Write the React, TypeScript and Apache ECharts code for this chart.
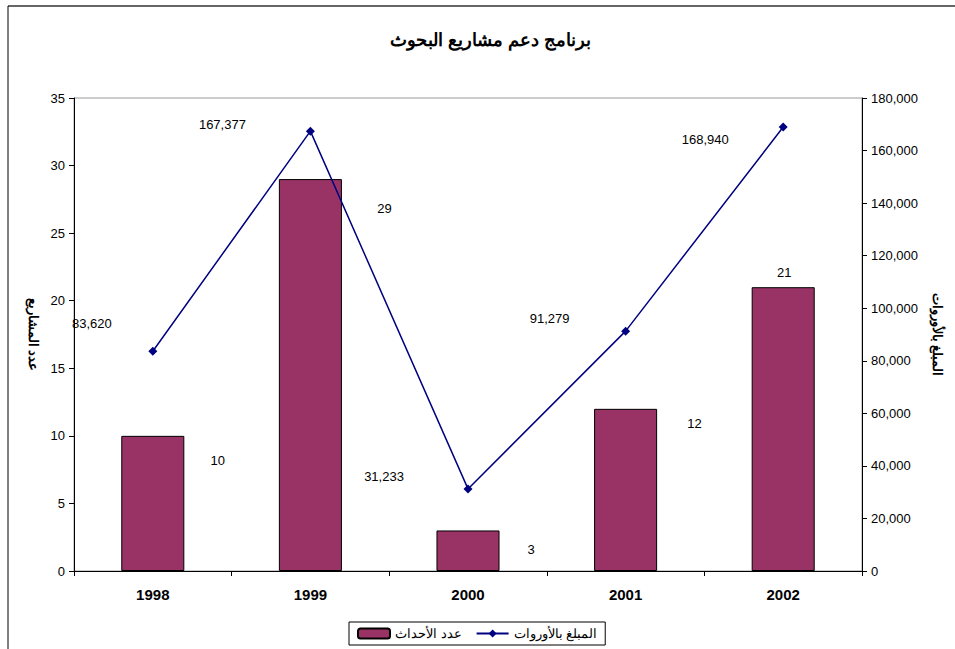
import React, { useEffect, useRef } from "react";
import * as echarts from "echarts";

const categories = ["1998", "1999", "2000", "2001", "2002"];
const projectCounts = [10, 29, 3, 12, 21];
const amountsEuro = [83620, 167377, 31233, 91279, 168940];
const leftTicks = { min: 0, max: 35, interval: 5 };
const rightTicks = { min: 0, max: 180000, interval: 20000 };

const barName = "عدد الأحداث";
const lineName = "المبلغ بالأوروات";
const titleText = "برنامج دعم مشاريع البحوث";
const leftAxisName = "عدد المشاريع";
const rightAxisName = "المبلغ بالأوروات";

// label offsets (manual label placement as in the reference)
const barLabelOffsets = [[65, 31], [74, 36], [63, 26], [69, 21], [1, -8]];
const lineLabelOffsets = [[-61, -17], [-88, 4], [-84, -1], [-76, -2], [-78, 23]];

const FONT = "Arial, 'Liberation Sans', sans-serif";

export default function App() {
  const ref = useRef<HTMLDivElement>(null);
  useEffect(() => {
    document.body.style.margin = "0";
    const chart = echarts.init(ref.current!, null, { renderer: "svg" });
    chart.setOption({
      animation: false,
      backgroundColor: "#fff",
      textStyle: { fontFamily: FONT },
      title: {
        text: titleText,
        left: 385,
        top: 26,
        textStyle: { fontFamily: FONT, fontSize: 18, fontWeight: "bold", color: "#000" },
      },
      grid: {
        left: 74,
        right: 93,
        top: 98,
        bottom: 78,
        show: true,
        borderColor: "#999",
        borderWidth: 1,
      },
      legend: {
        left: 349,
        top: 622,
        padding: [5, 8, 5, 8],
        borderColor: "#000",
        borderWidth: 1,
        borderRadius: 0,
        itemGap: 14,
        itemWidth: 32,
        itemHeight: 10,
        textStyle: { fontFamily: FONT, fontSize: 13, color: "#000" },
        data: [barName, lineName],
      },
      graphic: [
        { type: "line", shape: { x1: 8, y1: 6, x2: 955, y2: 6 }, style: { stroke: "#333", lineWidth: 1.5 } },
        { type: "line", shape: { x1: 8, y1: 6, x2: 8, y2: 649 }, style: { stroke: "#000", lineWidth: 1 } },
      ],
      xAxis: {
        type: "category",
        data: categories,
        axisLine: { lineStyle: { color: "#000" } },
        axisTick: { show: true, alignWithLabel: false, length: 5, lineStyle: { color: "#000" } },
        axisLabel: { margin: 16, fontFamily: FONT, fontSize: 15, fontWeight: "bold", color: "#000" },
        splitLine: { show: false },
      },
      yAxis: [
        {
          type: "value",
          min: leftTicks.min,
          max: leftTicks.max,
          interval: leftTicks.interval,
          position: "left",
          name: leftAxisName,
          nameLocation: "middle",
          nameRotate: -90,
          nameGap: 34,
          nameTextStyle: { fontFamily: FONT, fontSize: 13, fontWeight: "bold", color: "#000" },
          axisLine: { show: true, lineStyle: { color: "#000" } },
          axisTick: { show: true, length: 5, lineStyle: { color: "#000" } },
          axisLabel: { margin: 9, fontFamily: FONT, fontSize: 13, color: "#000" },
          splitLine: { show: false },
        },
        {
          type: "value",
          min: rightTicks.min,
          max: rightTicks.max,
          interval: rightTicks.interval,
          position: "right",
          name: rightAxisName,
          nameLocation: "middle",
          nameRotate: -90,
          nameGap: 69,
          nameTextStyle: { fontFamily: FONT, fontSize: 13, fontWeight: "bold", color: "#000" },
          axisLine: { show: true, lineStyle: { color: "#000" } },
          axisTick: { show: true, length: 5, lineStyle: { color: "#000" } },
          axisLabel: {
            margin: 9,
            fontFamily: FONT,
            fontSize: 13,
            color: "#000",
            formatter: (v: number) => v.toLocaleString("en-US"),
          },
          splitLine: { show: false },
        },
      ],
      series: [
        {
          name: barName,
          type: "bar",
          yAxisIndex: 0,
          barWidth: "40%",
          itemStyle: { color: "#993366", borderColor: "#000", borderWidth: 1 },
          data: projectCounts.map((v, i) => ({
            value: v,
            label: { offset: barLabelOffsets[i] },
          })),
          label: {
            show: true,
            position: "top",
            distance: 0,
            fontFamily: FONT,
            fontSize: 13,
            color: "#000",
          },
        },
        {
          name: lineName,
          type: "line",
          yAxisIndex: 1,
          symbol: "diamond",
          symbolSize: 9,
          lineStyle: { color: "#000080", width: 1.5 },
          itemStyle: { color: "#000080" },
          data: amountsEuro.map((v, i) => ({
            value: v,
            label: { offset: lineLabelOffsets[i] },
          })),
          label: {
            show: true,
            position: "top",
            distance: 0,
            fontFamily: FONT,
            fontSize: 13,
            color: "#000",
            formatter: (p: any) => Number(p.value).toLocaleString("en-US"),
          },
        },
      ],
    });
    return () => chart.dispose();
  }, []);
  return <div ref={ref} style={{ width: 955, height: 649 }} />;
}
